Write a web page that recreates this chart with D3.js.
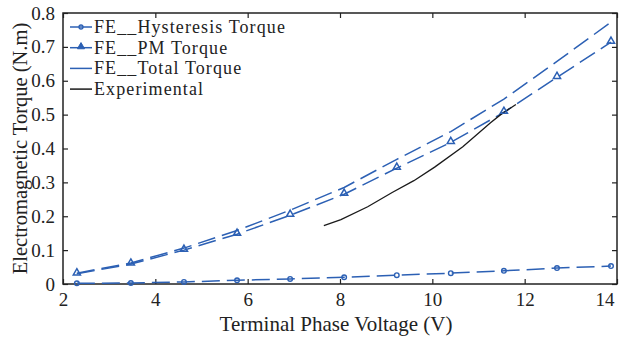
<!DOCTYPE html>
<html>
<head>
<meta charset="utf-8">
<script src="https://cdn.jsdelivr.net/npm/d3@7"></script>
<style>
  body { margin: 0; background: #fff; }
  text { font-family: "Liberation Serif", "DejaVu Serif", serif; fill: #222; }
</style>
</head>
<body>
<svg id="chart"></svg>
<script>
const width = 623;
const height = 341;

// data
const voltage = [2.3, 3.47, 4.62, 5.77, 6.92, 8.09, 9.23, 10.4, 11.55, 12.7, 13.87];
const hysteresis = [0.002, 0.003, 0.006, 0.011, 0.015, 0.02, 0.026, 0.032, 0.039, 0.047, 0.053];
const pmTorque = [0.03, 0.059, 0.1, 0.147, 0.203, 0.265, 0.342, 0.418, 0.507, 0.61, 0.714];
const totalTorque = [0.032, 0.062, 0.106, 0.158, 0.218, 0.285, 0.368, 0.45, 0.546, 0.657, 0.773];
const expVoltage = [7.65, 8.02, 8.6, 9.13, 9.6, 10.05, 10.66, 11.26, 11.48, 11.81];
const expTorque = [0.172, 0.19, 0.228, 0.27, 0.305, 0.345, 0.405, 0.476, 0.5, 0.53];
const xTicks = [2, 4, 6, 8, 10, 12, 14];
const yTicks = [0, 0.1, 0.2, 0.3, 0.4, 0.5, 0.6, 0.7, 0.8];
const legendLabels = ['FE__Hysteresis Torque', 'FE__PM Torque', 'FE__Total Torque', 'Experimental'];

const blue = '#2c60b4';
const margin = { left: 63, right: 6, top: 13, bottom: 57 };

const svg = d3.select('#chart')
  .attr('width', width)
  .attr('height', height);

const x = d3.scaleLinear().domain([2, 14]).range([margin.left, width - margin.right]);
const y = d3.scaleLinear().domain([0, 0.8]).range([height - margin.bottom, margin.top]);

// axes, ticks pointing inward like matlab
const xAxis = d3.axisBottom(x).tickValues(xTicks).tickSize(-5).tickPadding(9).tickFormat(d3.format('d'));
const yAxis = d3.axisLeft(y).tickValues(yTicks).tickSize(-5).tickPadding(8).tickFormat(d => d === 0 ? '0' : d3.format('.1f')(d));

const gx = svg.append('g')
  .attr('transform', `translate(0, ${y(0)})`)
  .call(xAxis);
const gy = svg.append('g')
  .attr('transform', `translate(${x(2)}, 0)`)
  .call(yAxis);
// top and right tick marks
svg.append('g')
  .attr('transform', `translate(0, ${y(0.8)})`)
  .call(d3.axisTop(x).tickValues(xTicks).tickSize(-5).tickFormat(''));
svg.append('g')
  .attr('transform', `translate(${x(14)}, 0)`)
  .call(d3.axisRight(y).tickValues(yTicks).tickSize(-5).tickFormat(''));

svg.selectAll('.domain').remove();
svg.selectAll('.tick line').attr('stroke', '#222').attr('stroke-width', 1.2);
svg.selectAll('.tick text').style('font-size', '19px').attr('fill', '#222');
// last x label would be cut by the page edge
gx.selectAll('.tick text').filter(d => d === 14).attr('text-anchor', 'end').attr('dx', -3);

// frame
svg.append('rect')
  .attr('x', x(2))
  .attr('y', y(0.8))
  .attr('width', x(14) - x(2))
  .attr('height', y(0) - y(0.8))
  .attr('fill', 'none')
  .attr('stroke', '#222')
  .attr('stroke-width', 1.5);

// axis titles
svg.append('text')
  .attr('x', 336)
  .attr('y', 331)
  .attr('text-anchor', 'middle')
  .style('font-size', '21px')
  .text('Terminal Phase Voltage (V)');

svg.append('text')
  .attr('transform', `translate(27, ${(y(0) + y(0.8)) / 2}) rotate(-90)`)
  .attr('text-anchor', 'middle')
  .style('font-size', '20.5px')
  .text('Electromagnetic Torque (N.m)');

const line = d3.line()
  .x(d => x(d[0]))
  .y(d => y(d[1]));

const hysData = voltage.map((v, i) => [v, hysteresis[i]]);
const pmData = voltage.map((v, i) => [v, pmTorque[i]]);
const totData = voltage.map((v, i) => [v, totalTorque[i]]);
const expData = expVoltage.map((v, i) => [v, expTorque[i]]);

const plot = svg.append('g');

[totData, pmData, hysData].forEach(series => {
  plot.append('path')
    .datum(series)
    .attr('d', line)
    .attr('fill', 'none')
    .attr('stroke', blue)
    .attr('stroke-width', 1.5)
    .attr('stroke-dasharray', '18,7');
});

plot.append('path')
  .datum(expData)
  .attr('d', line)
  .attr('fill', 'none')
  .attr('stroke', '#1a1a1a')
  .attr('stroke-width', 1.3);

// markers
const tri = d3.symbol().type(d3.symbolTriangle).size(22);
plot.selectAll('.tri')
  .data(pmData)
  .enter()
  .append('path')
  .attr('transform', d => `translate(${x(d[0])}, ${y(d[1]) - 1})`)
  .attr('d', tri)
  .attr('fill', 'none')
  .attr('stroke', blue)
  .attr('stroke-width', 1.5);

plot.selectAll('.circ')
  .data(hysData)
  .enter()
  .append('circle')
  .attr('cx', d => x(d[0]))
  .attr('cy', d => y(d[1]))
  .attr('r', 2.3)
  .attr('fill', 'none')
  .attr('stroke', blue)
  .attr('stroke-width', 1.4);

// legend
const legend = svg.append('g').attr('transform', 'translate(70, 27)');
legendLabels.forEach((label, i) => {
  const row = legend.append('g').attr('transform', `translate(0, ${i * 20.7})`);
  row.append('line')
    .attr('x1', 0).attr('x2', 22)
    .attr('y1', 0).attr('y2', 0)
    .attr('stroke', i === 3 ? '#1a1a1a' : blue)
    .attr('stroke-width', 1.5);
  if (i === 0) {
    row.append('circle').attr('cx', 11).attr('cy', 0).attr('r', 2)
      .attr('fill', 'none').attr('stroke', blue).attr('stroke-width', 1.3);
  }
  if (i === 1) {
    row.append('path').attr('transform', 'translate(11, -1)').attr('d', tri)
      .attr('fill', blue).attr('stroke', blue).attr('stroke-width', 1);
  }
  row.append('text')
    .attr('x', 24)
    .attr('y', 6)
    .style('font-size', '18px')
    .style('letter-spacing', '1.1px')
    .text(label);
});
</script>
</body>
</html>
